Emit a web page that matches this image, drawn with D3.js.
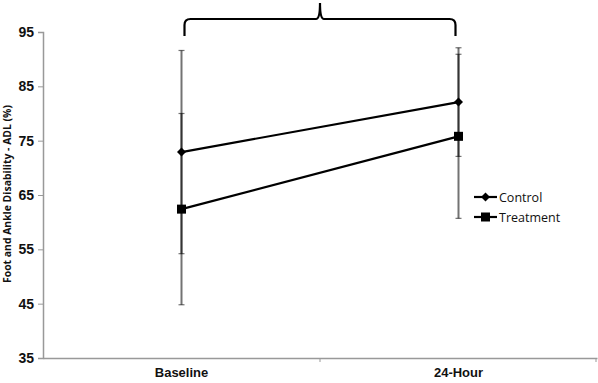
<!DOCTYPE html>
<html>
<head>
<meta charset="utf-8">
<script src="https://cdn.jsdelivr.net/npm/d3@7"></script>
<style>
  body { margin: 0; background: #fff; }
  svg { display: block; font-family: "Open Sans", "DejaVu Sans", sans-serif; }
</style>
</head>
<body>
<svg></svg>
<script>
let categories = ["Baseline", "24-Hour"];
let seriesNames = ["Control", "Treatment"];
let controlMean = [72.9, 82.1];
let controlErr = [18.7, 10.0];
let treatmentMean = [62.4, 75.8];
let treatmentErr = [17.6, 15.1];
let yTicks = [35, 45, 55, 65, 75, 85, 95];

let width = 598;
let height = 383;
let margin = {top: 32, right: 1, bottom: 25, left: 43};

let svg = d3.select("svg").attr("width", width).attr("height", height);

let xScale = d3.scaleBand()
  .domain(categories)
  .range([margin.left, width - margin.right]);

let yScale = d3.scaleLinear()
  .domain([35, 95])
  .range([height - margin.bottom, margin.top]);

let cx = (d) => xScale(d) + xScale.bandwidth() / 2;

// axes
let yAxis = d3.axisLeft(yScale).tickValues(yTicks).tickSize(5).tickPadding(4).tickFormat(d3.format("d"));
let gy = svg.append("g")
  .attr("transform", "translate(" + margin.left + ",0)")
  .call(yAxis);
gy.select(".domain").attr("stroke", "#999").attr("stroke-width", 1.5);
gy.selectAll(".tick line").attr("stroke", "#999");
gy.selectAll(".tick text").attr("font-size", 14).attr("font-weight", 600).attr("fill", "#111");

let xAxis = d3.axisBottom(xScale).tickSize(0).tickPadding(10);
let gx = svg.append("g")
  .attr("transform", "translate(0," + (height - margin.bottom) + ")")
  .call(xAxis);
gx.select(".domain").attr("stroke", "#999").attr("stroke-width", 1.5);
gx.selectAll(".tick text").attr("font-size", 13).attr("font-weight", 600).attr("fill", "#111");

// band separators on x axis
svg.selectAll(".sep")
  .data(categories.slice(1).concat(["end"]))
  .enter()
  .append("line")
  .attr("x1", (d) => d == "end" ? width - margin.right - 1 : xScale(d))
  .attr("x2", (d) => d == "end" ? width - margin.right - 1 : xScale(d))
  .attr("y1", height - margin.bottom)
  .attr("y2", height - margin.bottom + 4)
  .attr("stroke", "#999");

// y title
svg.append("text")
  .attr("transform", "translate(11,194) rotate(-90)")
  .attr("text-anchor", "middle")
  .attr("font-size", 10)
  .attr("font-weight", "bold")
  .attr("fill", "#111")
  .attr("textLength", 178)
  .attr("lengthAdjust", "spacingAndGlyphs")
  .text("Foot and Ankle Disability - ADL (%)");

let series = [
  {name: seriesNames[0], mean: controlMean, err: controlErr, marker: "diamond"},
  {name: seriesNames[1], mean: treatmentMean, err: treatmentErr, marker: "square"}
];

// error bars
series.forEach((s) => {
  let g = svg.append("g").attr("stroke", "#000").attr("stroke-opacity", 0.55);
  categories.forEach((c, i) => {
    let x = cx(c);
    let y1 = yScale(s.mean[i] + s.err[i]);
    let y2 = yScale(s.mean[i] - s.err[i]);
    g.append("line").attr("x1", x).attr("x2", x).attr("y1", y1).attr("y2", y2).attr("stroke-width", 2);
    g.append("line").attr("x1", x - 3).attr("x2", x + 3).attr("y1", y1).attr("y2", y1).attr("stroke-width", 1.2);
    g.append("line").attr("x1", x - 3).attr("x2", x + 3).attr("y1", y2).attr("y2", y2).attr("stroke-width", 1.2);
  });
});

let line = d3.line()
  .x((d) => cx(d.cat))
  .y((d) => yScale(d.val));

let drawMarker = (g, type, x, y) => {
  if (type == "diamond") {
    g.append("path")
      .attr("d", "M" + x + "," + (y - 4.5) + "L" + (x + 4.5) + "," + y + "L" + x + "," + (y + 4.5) + "L" + (x - 4.5) + "," + y + "Z")
      .attr("fill", "#000");
  } else {
    g.append("rect").attr("x", x - 4.5).attr("y", y - 4.5).attr("width", 9).attr("height", 9).attr("fill", "#000");
  }
};

series.forEach((s) => {
  let pts = categories.map((c, i) => ({cat: c, val: s.mean[i]}));
  svg.append("path")
    .datum(pts)
    .attr("d", line)
    .attr("fill", "none")
    .attr("stroke", "#000")
    .attr("stroke-width", 2.2);
  pts.forEach((p) => drawMarker(svg, s.marker, cx(p.cat), yScale(p.val)));
});

// legend
let legend = svg.append("g").attr("transform", "translate(474,197)");
series.forEach((s, i) => {
  let g = legend.append("g").attr("transform", "translate(0," + (i * 20) + ")");
  g.append("line").attr("x1", 0).attr("x2", 23).attr("y1", 0).attr("y2", 0).attr("stroke", "#000").attr("stroke-width", 2.2);
  drawMarker(g, s.marker, 11.5, 0);
  g.append("text")
    .attr("x", 25)
    .attr("y", 4.5)
    .attr("font-size", 12.5)
    .attr("fill", "#111")
    .text(s.name);
});

// brace over both time points
let bx1 = cx(categories[0]) + 3;
let bx2 = cx(categories[1]) - 3;
let bm = (bx1 + bx2) / 2;
let by = 19;
svg.append("path")
  .attr("d",
    "M" + bx1 + ",36 L" + bx1 + "," + (by + 6) +
    " Q" + bx1 + "," + by + " " + (bx1 + 6) + "," + by +
    " L" + (bm - 4) + "," + by +
    " Q" + bm + "," + by + " " + bm + ",3" +
    " Q" + bm + "," + by + " " + (bm + 4) + "," + by +
    " L" + (bx2 - 6) + "," + by +
    " Q" + bx2 + "," + by + " " + bx2 + "," + (by + 6) +
    " L" + bx2 + ",36")
  .attr("fill", "none")
  .attr("stroke", "#000")
  .attr("stroke-width", 2.2);
</script>
</body>
</html>
